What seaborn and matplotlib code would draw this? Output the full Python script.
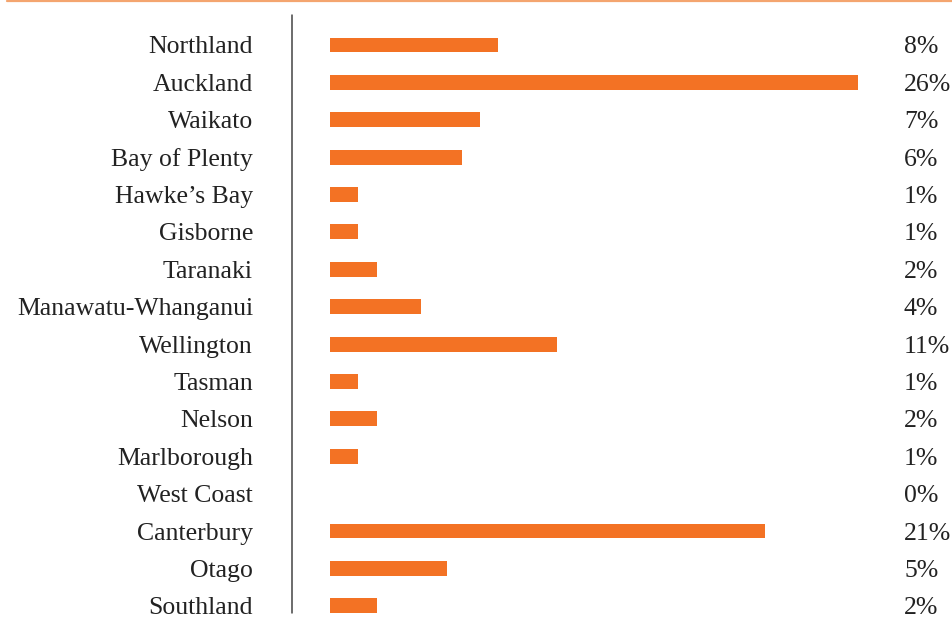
import matplotlib
matplotlib.use("Agg")
import matplotlib.pyplot as plt
from matplotlib.lines import Line2D
import matplotlib.transforms as mtransforms
import seaborn as sns
import pandas as pd

# Share of total by region (bar lengths, labels as printed)
regions = ["Northland", "Auckland", "Waikato", "Bay of Plenty", "Hawke’s Bay",
           "Gisborne", "Taranaki", "Manawatu-Whanganui", "Wellington", "Tasman",
           "Nelson", "Marlborough", "West Coast", "Canterbury", "Otago", "Southland"]
shares = [8.27, 26.0, 7.39, 6.5, 1.38, 1.38, 2.3, 4.48, 11.2, 1.38,
          2.3, 1.38, 0.0, 21.4, 5.76, 2.3]
share_labels = ["8%", "26%", "7%", "6%", "1%", "1%", "2%", "4%", "11%", "1%",
                "2%", "1%", "0%", "21%", "5%", "2%"]

df = pd.DataFrame({"region": regions, "share": shares})

orange = "#F37224"
text_col = "#222222"
fs = 18.5

sns.set_style("white")
plt.rcParams["font.family"] = ["Liberation Serif", "DejaVu Serif"]

W, H = 952, 617
fig = plt.figure(figsize=(W / 100, H / 100), dpi=100)
ax = fig.add_axes([330 / W, 0, 528 / W, (H - 26.3) / H])

sns.barplot(data=df, x="share", y="region", orient="h", color=orange,
            width=0.4, saturation=1, linewidth=0, ax=ax)

ax.set_xlim(0, 26)
ax.set_ylim(15.3, -0.5)
ax.set_xlabel("")
ax.set_ylabel("")
ax.set_xticks([])
for s in ax.spines.values():
    s.set_visible(False)
ax.tick_params(axis="y", length=0, pad=55.5, labelsize=fs, labelcolor=text_col)
for t in ax.get_yticklabels():
    t.set_verticalalignment("center_baseline")

# percentage labels at the right
trans = mtransforms.blended_transform_factory(fig.transFigure, ax.transData)
for i, lab in enumerate(share_labels):
    ax.text(904 / W, i, lab, transform=trans, ha="left", va="center_baseline",
            fontsize=fs, color=text_col, clip_on=False)

# vertical divider and top rule
fig.add_artist(Line2D([292 / W, 292 / W], [1 - 15 / H, 1 - 613 / H],
                      transform=fig.transFigure, color="#444444", lw=1.1))
fig.add_artist(Line2D([7 / W, 1], [1 - 0.8 / H, 1 - 0.8 / H],
                      transform=fig.transFigure, color="#F4A56F", lw=1.6))

fig.savefig("out.png", dpi=100)
